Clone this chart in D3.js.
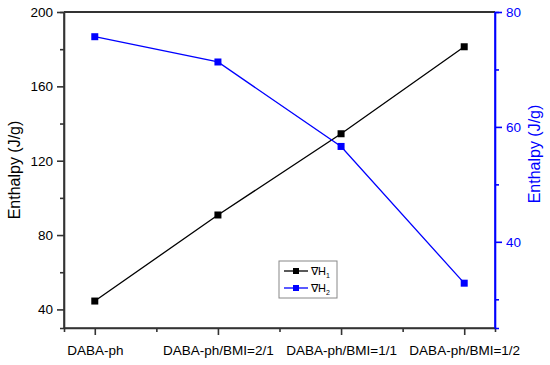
<html>
<head>
<script src="https://cdnjs.cloudflare.com/ajax/libs/d3/7.1.1/d3.js"></script>
<style>
  body { margin: 0; background: #fff; }
  text { font-family: Arial, "Liberation Sans", sans-serif; }
</style>
</head>
<body>
<script>
const categories = ['DABA-ph', 'DABA-ph/BMI=2/1', 'DABA-ph/BMI=1/1', 'DABA-ph/BMI=1/2'];
const h1Values = [44.5, 90.8, 134.5, 181.3];
const h2Values = [75.7, 71.3, 56.6, 32.8];
const leftTicks = [40, 80, 120, 160, 200];
const rightTicks = [40, 60, 80];

const width = 550, height = 365;
const m = { top: 12, right: 55, bottom: 37, left: 64 };

const svg = d3.select('body').append('svg')
  .attr('width', width)
  .attr('height', height);

const x = d3.scaleLinear().domain([0.75, 4.25]).range([m.left, width - m.right]);
const yL = d3.scaleLinear().domain([30, 200]).range([height - m.bottom, m.top]);
const yR = d3.scaleLinear().domain([25, 80]).range([height - m.bottom, m.top]);

const axisColor = '#333';
const blue = '#0000ff';

// left axis
const left = svg.append('g').attr('transform', `translate(${m.left},0)`)
  .call(d3.axisLeft(yL).tickValues(leftTicks).tickSize(7).tickPadding(4));
left.append('g').call(d3.axisLeft(yL).tickValues([60, 100, 140, 180]).tickSize(4).tickFormat(''));

// bottom axis
const bottom = svg.append('g').attr('transform', `translate(0,${height - m.bottom})`)
  .call(d3.axisBottom(x).tickValues([1, 2, 3, 4]).tickSize(7).tickPadding(10)
    .tickFormat((d, i) => categories[i]));
bottom.append('g').call(d3.axisBottom(x).tickValues([1.5, 2.5, 3.5]).tickSize(4).tickFormat(''));

[left, bottom].forEach(g => {
  g.selectAll('path, line').attr('stroke', axisColor).attr('stroke-width', 1.6);
  g.selectAll('text').attr('fill', '#000').style('font-size', '13.5px');
});
left.select('.domain').attr('d', `M0,${height - m.bottom}V${m.top}`);
bottom.select('.domain').attr('d', `M${m.left},0H${width - m.right}`);

// top frame line
svg.append('line')
  .attr('x1', m.left).attr('x2', width - m.right)
  .attr('y1', m.top).attr('y2', m.top)
  .attr('stroke', axisColor).attr('stroke-width', 2);

// right axis
const right = svg.append('g').attr('transform', `translate(${width - m.right},0)`)
  .call(d3.axisRight(yR).tickValues(rightTicks).tickSize(7).tickPadding(4));
right.append('g').call(d3.axisRight(yR).tickValues([30, 50, 70]).tickSize(4).tickFormat(''));
right.selectAll('path, line').attr('stroke', blue).attr('stroke-width', 1.6);
right.selectAll('text').attr('fill', blue).style('font-size', '13.5px');
right.select('.domain').attr('d', `M0,${height - m.bottom}V${m.top}`);

// axis titles
svg.append('text')
  .attr('transform', `translate(20,170) rotate(-90)`)
  .attr('text-anchor', 'middle')
  .style('font-size', '16px')
  .text('Enthalpy (J/g)');
svg.append('text')
  .attr('transform', `translate(540,154) rotate(-90)`)
  .attr('text-anchor', 'middle')
  .attr('fill', blue)
  .style('font-size', '16px')
  .text('Enthalpy (J/g)');

// series
const series = [
  { values: h1Values, scale: yL, color: '#000' },
  { values: h2Values, scale: yR, color: blue }
];
series.forEach(s => {
  const line = d3.line().x((d, i) => x(i + 1)).y(d => s.scale(d));
  svg.append('path')
    .attr('d', line(s.values))
    .attr('fill', 'none')
    .attr('stroke', s.color)
    .attr('stroke-width', 1.3);
  svg.selectAll(null).data(s.values).enter().append('rect')
    .attr('x', (d, i) => x(i + 1) - 3.5)
    .attr('y', d => s.scale(d) - 3.5)
    .attr('width', 7).attr('height', 7)
    .attr('fill', s.color);
});

// legend
const lg = svg.append('g').attr('transform', 'translate(279,261)');
lg.append('rect')
  .attr('width', 58).attr('height', 37)
  .attr('fill', '#fff').attr('stroke', '#888').attr('stroke-width', 1);
const legendItems = [
  { label: '1', color: '#000' },
  { label: '2', color: blue }
];
legendItems.forEach((d, i) => {
  const yy = 10 + i * 17;
  lg.append('line').attr('x1', 5).attr('x2', 29).attr('y1', yy).attr('y2', yy)
    .attr('stroke', d.color).attr('stroke-width', 1.3);
  lg.append('rect').attr('x', 14).attr('y', yy - 3).attr('width', 6).attr('height', 6)
    .attr('fill', d.color);
  const t = lg.append('text').attr('x', 32).attr('y', yy + 4)
    .style('font-size', '11px').attr('fill', '#000');
  t.append('tspan').text('\u2207H');
  t.append('tspan').attr('dy', 3).style('font-size', '7px').text(d.label);
});
</script>
</body>
</html>
